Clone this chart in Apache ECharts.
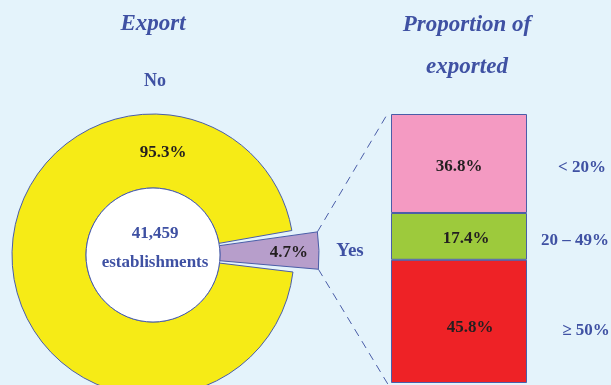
<!DOCTYPE html>
<html>
<head>
<meta charset="utf-8">
<script src="https://cdn.jsdelivr.net/npm/echarts@6/dist/echarts.min.js"></script>
<style>
  html, body { margin: 0; padding: 0; background: #E4F3FB; }
  #main { width: 611px; height: 385px; }
</style>
</head>
<body>
<div id="main"></div>
<script>
// Export status of establishments (share of all establishments, %)
const exportCategories = ['Yes', 'No'];
const exportShares = [4.7, 95.3];
const totalEstablishments = 41459;

// Proportion of output exported, among exporting establishments (bottom to top)
const proportionBins = ['\u2265 50%', '20 \u2013 49%', '< 20%'];
const proportionShares = [45.8, 17.4, 36.8];

const BLUE_TEXT = '#3F51A3';
const OUTLINE = '#4A5DA8';
const DARK_TEXT = '#231F20';
const SERIF = '"Liberation Serif", "Times New Roman", serif';
const binColors = ['#EE2226', '#9DCA3C', '#F49AC2'];
const binLabelOffsets = [[11, 6], [7, 2], [0, 3]];

const pieCenter = [153, 255];
const startAngle = 10;
const ringRadius = [67, 141];
const sliceRadius = [67, 166];
const slicePad = 4;
const barGrid = { left: 391, width: 136, top: 114, bottom: 2 };

const chart = echarts.init(document.getElementById('main'), null, { renderer: 'canvas' });

const barSeries = proportionShares.map((v, i) => ({
  type: 'bar',
  name: proportionBins[i],
  stack: 'share',
  barWidth: '100%',
  data: [v],
  itemStyle: { color: binColors[i], borderColor: OUTLINE, borderWidth: 1 },
  label: {
    show: true,
    position: 'inside',
    offset: binLabelOffsets[i],
    formatter: p => p.value.toFixed(1) + '%',
    color: DARK_TEXT,
    fontFamily: SERIF,
    fontWeight: 'bold',
    fontSize: 17
  },
  emphasis: { disabled: true },
  silent: true
}));

chart.setOption({
  backgroundColor: '#E4F3FB',
  animation: false,
  grid: barGrid,
  xAxis: { type: 'category', data: ['Exporters'], show: false },
  yAxis: { type: 'value', min: 0, max: 100, show: false },
  series: [
    // Yellow ring: non-exporters, with an empty gap for exporters
    {
      type: 'pie',
      center: pieCenter,
      radius: ringRadius,
      startAngle: startAngle,
      clockwise: true,
      silent: true,
      label: { show: false },
      labelLine: { show: false },
      emphasis: { disabled: true },
      data: exportCategories.map((name, i) => ({
        name: name,
        value: exportShares[i],
        itemStyle: name === 'No'
          ? { color: '#F6EB16', borderColor: OUTLINE, borderWidth: 1 }
          : { color: 'transparent', borderWidth: 0 }
      }))
    },
    // Pulled-out exporter slice
    {
      type: 'pie',
      center: pieCenter,
      radius: sliceRadius,
      startAngle: startAngle,
      clockwise: true,
      padAngle: slicePad,
      silent: true,
      label: { show: false },
      labelLine: { show: false },
      emphasis: { disabled: true },
      data: exportCategories.map((name, i) => ({
        name: name,
        value: exportShares[i],
        itemStyle: name === 'Yes'
          ? { color: '#B79ECB', borderColor: OUTLINE, borderWidth: 1 }
          : { color: 'transparent', borderWidth: 0 }
      }))
    },
    // White hub with the establishment count
    {
      type: 'pie',
      center: pieCenter,
      radius: [0, ringRadius[0]],
      silent: true,
      label: { show: false },
      labelLine: { show: false },
      emphasis: { disabled: true },
      itemStyle: { color: '#FFFFFF', borderColor: OUTLINE, borderWidth: 1 },
      data: [{ name: 'establishments', value: totalEstablishments }]
    },
    ...barSeries
  ]
});

// Annotations positioned from the pie geometry and the bar axis
const rad = Math.PI / 180;
const yesIdx = exportCategories.indexOf('Yes');
const noIdx = exportCategories.indexOf('No');
const yesSweep = exportShares[yesIdx] / 100 * 360;
const sliceTopAngle = startAngle - slicePad / 2;
const sliceBottomAngle = startAngle - yesSweep + slicePad / 2;
const sliceMidAngle = startAngle - yesSweep / 2;
const polar = (r, a) => [pieCenter[0] + r * Math.cos(a * rad), pieCenter[1] - r * Math.sin(a * rad)];

const sliceTop = polar(sliceRadius[1], sliceTopAngle);
const sliceBottom = polar(sliceRadius[1], sliceBottomAngle);
const sliceLabelPos = polar(136, sliceMidAngle);
const barTopY = chart.convertToPixel({ yAxisIndex: 0 }, 100);
const barBottomY = chart.convertToPixel({ yAxisIndex: 0 }, 0);

function text(str, x, y, size, color, italic) {
  return {
    type: 'text',
    x: x, y: y,
    z: 100,
    silent: true,
    style: {
      text: str,
      fill: color,
      align: 'center',
      verticalAlign: 'middle',
      font: (italic ? 'italic ' : '') + 'bold ' + size + 'px ' + SERIF
    }
  };
}

function dashed(x1, y1, x2, y2) {
  return {
    type: 'line', silent: true, z: 1,
    shape: { x1: x1, y1: y1, x2: x2, y2: y2 },
    style: { stroke: OUTLINE, lineWidth: 1, lineDash: [8, 6] }
  };
}

// The lower connector runs off the bottom edge toward the bar's base corner
const lowerEnd = [barGrid.left - 2, barBottomY + 3];

const graphics = [
  text('Export', pieCenter[0], 24, 23, BLUE_TEXT, true),
  text('Proportion of', 467, 25, 23, BLUE_TEXT, true),
  text('exported', 467, 67, 23, BLUE_TEXT, true),
  text(exportCategories[noIdx], pieCenter[0] + 2, 81, 18, BLUE_TEXT),
  text(exportCategories[yesIdx], 350, 251, 19, BLUE_TEXT),
  text(exportShares[noIdx].toFixed(1) + '%', pieCenter[0] + 10, pieCenter[1] - 102, 17, DARK_TEXT),
  text(exportShares[yesIdx].toFixed(1) + '%', sliceLabelPos[0], sliceLabelPos[1] + 1, 17, DARK_TEXT),
  text(totalEstablishments.toLocaleString('en-US'), pieCenter[0] + 2, pieCenter[1] - 21, 17, BLUE_TEXT),
  text('establishments', pieCenter[0] + 2, pieCenter[1] + 8, 17, BLUE_TEXT),
  dashed(sliceTop[0], sliceTop[1], barGrid.left - 3, barTopY - 1),
  dashed(sliceBottom[0], sliceBottom[1], lowerEnd[0], lowerEnd[1])
];

// Bin names to the right of each segment
const binTextX = [586, 575, 582];
const binTextDy = [9, 4, 4];
let cum = 0;
proportionShares.forEach((v, i) => {
  const midY = chart.convertToPixel({ yAxisIndex: 0 }, cum + v / 2);
  graphics.push(text(proportionBins[i], binTextX[i], midY + binTextDy[i], 17, BLUE_TEXT));
  cum += v;
});

chart.setOption({ graphic: graphics });
</script>
</body>
</html>
